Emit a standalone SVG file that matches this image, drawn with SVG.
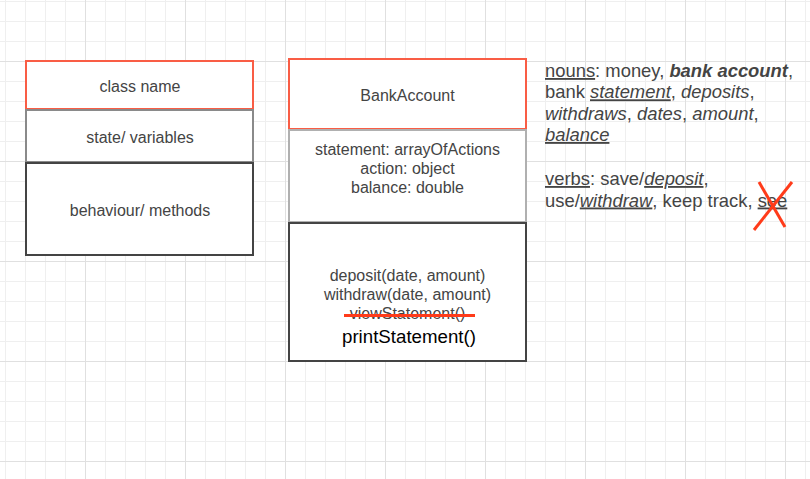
<svg xmlns="http://www.w3.org/2000/svg" width="810" height="479" viewBox="0 0 810 479">
<style>
text{font-family:"Liberation Sans",Arial,sans-serif;fill:#444}
.lbl{font-size:16px;text-anchor:middle}
.note{font-size:18.4px}
.box{fill:#fff;stroke-width:2}
.red{stroke:#f95d45}
.mid{stroke:#8a8a8a}
.light{stroke:#b0b0b0}
.dark{stroke:#444}
.u{text-decoration:underline}
.i{font-style:italic}
.bi{font-style:italic;font-weight:bold}
.x{stroke:#ff3b1a;stroke-width:3;fill:none}
</style>
<defs>
<pattern id="minor" patternUnits="userSpaceOnUse" x="5" y="1" width="20" height="20">
<rect x="0" y="0" width="1" height="20" fill="#efefef"/>
<rect x="0" y="0" width="20" height="1" fill="#efefef"/>
</pattern>
<pattern id="major" patternUnits="userSpaceOnUse" x="85" y="61" width="100" height="100">
<rect x="0" y="0" width="1" height="100" fill="#e0e0e0"/>
<rect x="0" y="0" width="100" height="1" fill="#e0e0e0"/>
</pattern>
</defs>
<rect width="810" height="479" fill="#fff"/>
<rect width="810" height="479" fill="url(#minor)"/>
<rect width="810" height="479" fill="url(#major)"/>

<g id="template">
<g id="tpl-name"><rect class="box red" x="26" y="61" width="227" height="48"/><text class="lbl" x="140" y="92">class name</text></g>
<g id="tpl-state"><rect class="box mid" x="26" y="110" width="227" height="52"/><text class="lbl" x="140" y="143">state/ variables</text></g>
<g id="tpl-behaviour"><rect class="box dark" x="26" y="163" width="227" height="92"/><text class="lbl" x="140" y="216">behaviour/ methods</text></g>
</g>

<g id="bankaccount">
<g id="ba-name"><rect class="box red" x="289" y="59" width="237" height="70"/><text class="lbl" x="407.5" y="101">BankAccount</text></g>
<g id="ba-attrs"><rect class="box light" x="289" y="130" width="237" height="92"/>
<text class="lbl" x="407.5" y="155">statement: arrayOfActions</text>
<text class="lbl" x="407.5" y="174">action: object</text>
<text class="lbl" x="407.5" y="193">balance: double</text></g>
<g id="ba-methods"><rect class="box dark" x="289" y="223" width="237" height="138"/>
<text class="lbl" x="407.5" y="281">deposit(date, amount)</text>
<text class="lbl" x="407.5" y="300">withdraw(date, amount)</text>
<text class="lbl" x="407.5" y="319">viewStatement()</text>
<text class="lbl" x="409" y="343" style="font-size:18.7px;fill:#000">printStatement()</text></g>
</g>

<g id="nouns">
<text class="note" x="545" y="77"><tspan class="u">nouns</tspan>: money, <tspan class="bi">bank account</tspan>,</text>
<text class="note" x="545" y="98.3">bank <tspan class="i u">statement</tspan>, <tspan class="i">deposits</tspan>,</text>
<text class="note" x="545" y="119.6"><tspan class="i">withdraws</tspan>, <tspan class="i">dates</tspan>, <tspan class="i">amount</tspan>,</text>
<text class="note" x="545" y="141"><tspan class="i u">balance</tspan></text>
</g>

<g id="verbs">
<text class="note" x="545" y="185"><tspan class="u">verbs</tspan>: save/<tspan class="i u">deposit</tspan>,</text>
<text class="note" x="545" y="206.5">use/<tspan class="i u">withdraw</tspan>, keep track, <tspan class="u">see</tspan></text>
</g>

<g id="connectors">
<line class="x" x1="344" y1="315.5" x2="475" y2="315.5"/>
<line class="x" x1="759" y1="182" x2="785" y2="227"/>
<line class="x" x1="792" y1="182" x2="754" y2="230"/>
</g>
</svg>
